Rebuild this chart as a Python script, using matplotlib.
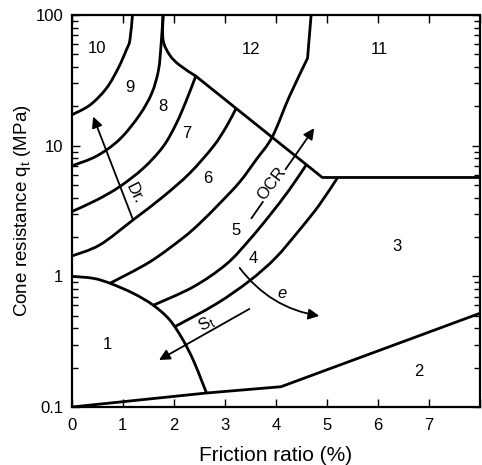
import matplotlib
matplotlib.use("Agg")
import matplotlib.pyplot as plt
import numpy as np
from matplotlib.path import Path
from matplotlib.patches import PathPatch
from matplotlib.ticker import FixedLocator, LogLocator, NullFormatter

plt.rcParams["font.family"] = ["Liberation Sans", "DejaVu Sans"]
plt.rcParams["mathtext.default"] = "regular"

# zone boundaries: friction ratio (%) vs qt (MPa)
b10_9_x = [0.0, 0.36, 0.68, 0.91, 1.07, 1.14, 1.19]
b10_9_y = [17.2, 20.5, 27.5, 39.1, 54.0, 64.4, 100.0]

b9_8_x = [0.0, 0.49, 0.94, 1.33, 1.57, 1.70, 1.75, 1.79]
b9_8_y = [7.0, 8.34, 11.2, 17.2, 25.3, 37.9, 58.9, 100.0]

b12_x = [1.79, 1.79, 1.92, 2.11, 2.43, 4.91, 8.0]
b12_y = [100.0, 64.4, 49.4, 41.4, 34.1, 5.71, 5.71]

b8_7_x = [0.0, 0.49, 0.94, 1.40, 1.79, 2.05, 2.25, 2.43]
b8_7_y = [3.13, 3.84, 4.86, 6.71, 9.83, 14.8, 22.4, 34.1]

b7_6_x = [0.0, 0.55, 1.20, 1.79, 2.31, 2.77, 3.03, 3.22]
b7_6_y = [1.43, 1.74, 2.70, 4.07, 6.15, 9.83, 14.0, 19.3]

b6_5_x = [0.75, 1.53, 2.18, 2.51, 2.90, 3.29, 3.61, 3.93, 4.26, 4.62, 4.69]
b6_5_y = [0.885, 1.29, 1.97, 2.55, 3.62, 5.27, 7.78, 11.7, 23.6, 46.7, 100.0]

b5_4_x = [1.59, 2.38, 3.03, 3.48, 3.87, 4.26, 4.60]
b5_4_y = [0.599, 0.830, 1.24, 1.90, 2.90, 4.58, 7.18]

b4_3_x = [2.02, 2.83, 3.48, 3.99, 4.46, 4.85, 5.21]
b4_3_y = [0.412, 0.615, 0.922, 1.38, 2.26, 3.52, 5.71]

b1_x = [0.0, 0.42, 0.75, 1.20, 1.59, 1.92, 2.18, 2.38, 2.54, 2.64]
b1_y = [1.0, 0.966, 0.885, 0.743, 0.604, 0.464, 0.326, 0.229, 0.161, 0.128]

b2_x = [0.0, 2.64, 4.10, 8.0]
b2_y = [0.1, 0.128, 0.143, 0.522]

# (x, y, how many leading points are drawn as a smooth curve; rest straight)
boundaries = [(b10_9_x, b10_9_y, 7), (b9_8_x, b9_8_y, 8), (b12_x, b12_y, 5),
              (b8_7_x, b8_7_y, 8), (b7_6_x, b7_6_y, 8), (b6_5_x, b6_5_y, 10),
              (b5_4_x, b5_4_y, 7), (b4_3_x, b4_3_y, 7), (b1_x, b1_y, 10),
              (b2_x, b2_y, 0)]

zone_names = ["10", "9", "8", "7", "6", "5", "4", "3", "2", "1", "12", "11"]
zone_x = [0.49, 1.15, 1.78, 2.25, 2.67, 3.21, 3.55, 6.38, 6.80, 0.70, 3.52, 6.02]
zone_y = [55.6, 28.0, 19.9, 12.4, 5.56, 2.26, 1.37, 1.69, 0.187, 0.299, 54.0, 54.0]

# trend arrows: (tail, tip, curvature, label, label pos, rotation, italic)
arrows = [
    ((1.19, 2.78), (0.42, 16.7), 0.0, "Dr.", (1.23, 4.3), -63, False),
    ((3.52, 2.78), (4.75, 13.6), 0.0, "OCR", (3.91, 5.15), 53, False),
    ((3.29, 1.16), (4.85, 0.498), 0.2, "e", (4.13, 0.74), 0, True),
    ((3.48, 0.563), (1.71, 0.229), 0.0, "S$_t$", (2.64, 0.43), 29, False),
]

xticks = list(range(9))
xtick_labels = ["0", "1", "2", "3", "4", "5", "6", "7", ""]
yticks = [0.1, 1, 10, 100]
ytick_labels = ["0.1", "1", "10", "100"]


def boundary_path(xs, ys, n_smooth):
    # catmull-rom through the first n_smooth points (in x, log10 y), then straight
    p = np.column_stack([xs, np.log10(ys)])
    verts, codes = [p[0]], [Path.MOVETO]
    m = max(n_smooth, 1)
    for i in range(m - 1):
        p0 = p[i - 1] if i > 0 else p[i]
        p3 = p[i + 2] if i + 2 < m else p[i + 1]
        verts += [p[i] + (p[i + 1] - p0) / 6, p[i + 1] - (p3 - p[i]) / 6, p[i + 1]]
        codes += [Path.CURVE4] * 3
    for i in range(m, len(p)):
        verts.append(p[i])
        codes.append(Path.LINETO)
    v = np.array(verts)
    v[:, 1] = 10 ** v[:, 1]
    return Path(v, codes)


fig = plt.figure(figsize=(4.82, 4.65), dpi=100)
ax = fig.add_axes([0.1488, 0.1247, 0.8472, 0.843])
ax.set_yscale("log")
ax.set_xlim(0, 8)
ax.set_ylim(0.1, 100)

for bx, by, ns in boundaries:
    ax.add_patch(PathPatch(boundary_path(bx, by, ns), facecolor="none",
                           edgecolor="black", lw=2.0, joinstyle="round",
                           capstyle="butt", zorder=3))

for name, zx, zy in zip(zone_names, zone_x, zone_y):
    ax.text(zx, zy, name, fontsize=12, ha="center", va="center", zorder=4)

for tail, tip, rad, lab, lpos, rot, ital in arrows:
    ax.annotate("", xy=tip, xytext=tail,
                arrowprops=dict(arrowstyle="-|>", color="black", lw=1.3,
                                mutation_scale=16, shrinkA=0, shrinkB=0,
                                connectionstyle=f"arc3,rad={rad}"), zorder=5)
    ax.text(lpos[0], lpos[1], lab, fontsize=12, rotation=rot,
            rotation_mode="anchor", ha="center", va="center",
            style="italic" if ital else "normal", zorder=6,
            bbox=dict(facecolor="white", edgecolor="none", pad=0.5)
            if lab == "OCR" else None)

ax.xaxis.set_major_locator(FixedLocator(xticks))
ax.set_xticklabels(xtick_labels)
ax.yaxis.set_major_locator(FixedLocator(yticks))
ax.set_yticklabels(ytick_labels)
ax.yaxis.set_minor_locator(LogLocator(base=10, subs=range(2, 10)))
ax.yaxis.set_minor_formatter(NullFormatter())

ax.tick_params(axis="both", which="major", direction="in", length=6,
               width=1.0, labelsize=12, top=True, right=True, pad=6)
ax.tick_params(axis="y", which="minor", direction="in", length=4,
               width=1.0, right=True)
ax.tick_params(axis="x", pad=8)
for s in ax.spines.values():
    s.set_linewidth(1.6)

ax.set_xlabel("Friction ratio (%)", fontsize=15, labelpad=9)
ax.set_ylabel("Cone resistance q$_t$ (MPa)", fontsize=13.5, labelpad=2)

fig.savefig("out.png", dpi=100)
